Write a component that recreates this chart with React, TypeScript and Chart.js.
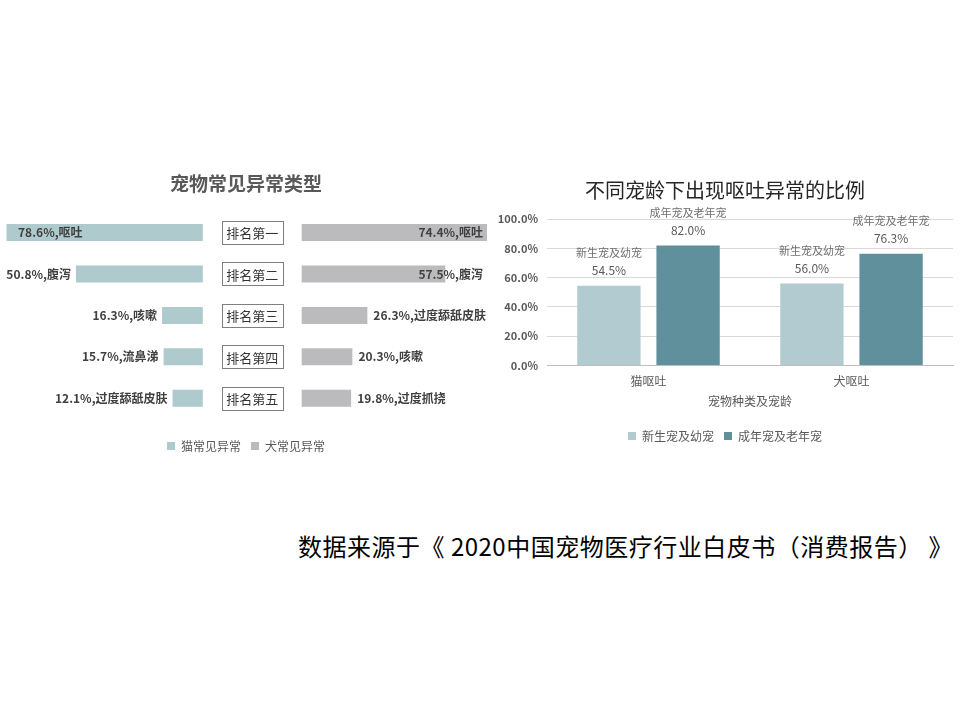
import React, { useEffect, useRef } from 'react';
import { Chart, registerables } from 'chart.js';
Chart.register(...registerables);

const FONT = '"Noto Sans CJK SC", "Noto Sans", sans-serif';
Chart.defaults.font.family = FONT;

// ---- Left chart data: 宠物常见异常类型 ----
const rankLabels = ['排名第一', '排名第二', '排名第三', '排名第四', '排名第五'];
const catValues = [78.6, 50.8, 16.3, 15.7, 12.1];
const catIssues = ['呕吐', '腹泻', '咳嗽', '流鼻涕', '过度舔舐皮肤'];
const dogValues = [74.4, 57.5, 26.3, 20.3, 19.8];
const dogIssues = ['呕吐', '腹泻', '过度舔舐皮肤', '咳嗽', '过度抓挠'];
const leftSeries = ['猫常见异常', '犬常见异常'];

// ---- Right chart data: 不同宠龄下出现呕吐异常的比例 ----
const vomitCategories = ['猫呕吐', '犬呕吐'];
const youngValues = [54.5, 56.0];
const adultValues = [82.0, 76.3];
const ageSeries = ['新生宠及幼宠', '成年宠及老年宠'];

const GAP = 19.8; // half width of the central rank column, in % units

const CAT_COLOR = '#aecacd';
const DOG_COLOR = '#bbbbbd';
const YOUNG_COLOR = '#b1cbd1';
const ADULT_COLOR = '#60909c';

const leftLabelPlugin = {
  id: 'leftLabels',
  afterDatasetsDraw(chart: any) {
    const { ctx, chartArea } = chart;
    const xs = chart.scales.x;
    ctx.save();
    ctx.textBaseline = 'middle';
    ctx.font = `bold 12px ${FONT}`;
    ctx.fillStyle = '#404040';
    chart.getDatasetMeta(0).data.forEach((bar: any, i: number) => {
      const text = `${catValues[i].toFixed(1)}%,${catIssues[i]}`;
      const w = ctx.measureText(text).width;
      const start = Math.min(bar.x, bar.base);
      if (start - 5 - w < chartArea.left) {
        ctx.textAlign = 'left';
        ctx.fillText(text, chartArea.left + 13, bar.y);
      } else {
        ctx.textAlign = 'right';
        ctx.fillText(text, start - 5, bar.y);
      }
    });
    chart.getDatasetMeta(1).data.forEach((bar: any, i: number) => {
      const text = `${dogValues[i].toFixed(1)}%,${dogIssues[i]}`;
      const w = ctx.measureText(text).width;
      const end = Math.max(bar.x, bar.base);
      if (end + 6 + w > chartArea.right) {
        ctx.textAlign = 'right';
        ctx.fillText(text, chartArea.right - 4, bar.y + (end + 6 < chartArea.right - 40 ? 3 : 0));
      } else {
        ctx.textAlign = 'left';
        ctx.fillText(text, end + 6, bar.y);
      }
    });
    const cx = xs.getPixelForValue(0);
    ctx.font = `13px ${FONT}`;
    ctx.textAlign = 'center';
    chart.getDatasetMeta(0).data.forEach((bar: any, i: number) => {
      const bw = 61, bh = 23;
      ctx.fillStyle = '#ffffff';
      ctx.fillRect(cx - bw / 2, bar.y - bh / 2, bw, bh);
      ctx.strokeStyle = '#7f7f7f';
      ctx.lineWidth = 1;
      ctx.strokeRect(Math.round(cx - bw / 2) + 0.5, Math.round(bar.y - bh / 2) + 0.5, bw, bh);
      ctx.fillStyle = '#333333';
      ctx.fillText(rankLabels[i], cx, bar.y + 1);
    });
    ctx.restore();
  },
};

const rightLabelPlugin = {
  id: 'rightLabels',
  afterDatasetsDraw(chart: any) {
    const { ctx } = chart;
    ctx.save();
    ctx.textAlign = 'center';
    ctx.textBaseline = 'middle';
    chart.data.datasets.forEach((ds: any, d: number) => {
      chart.getDatasetMeta(d).data.forEach((bar: any, i: number) => {
        ctx.font = `11px ${FONT}`;
        ctx.fillStyle = '#6f6f6f';
        ctx.fillText(ageSeries[d], bar.x, bar.y - 33);
        ctx.font = `12px ${FONT}`;
        ctx.fillStyle = '#595959';
        ctx.fillText(`${(ds.data[i] as number).toFixed(1)}%`, bar.x, bar.y - 15);
      });
    });
    ctx.restore();
  },
};

function LeftChart() {
  const ref = useRef<HTMLCanvasElement>(null);
  useEffect(() => {
    const chart = new Chart(ref.current as HTMLCanvasElement, {
      type: 'bar',
      data: {
        labels: rankLabels,
        datasets: [
          {
            label: leftSeries[0],
            data: catValues.map((v) => [-(GAP + v), -GAP]) as any,
            backgroundColor: CAT_COLOR,
            grouped: false,
            barPercentage: 0.41,
            categoryPercentage: 1,
          } as any,
          {
            label: leftSeries[1],
            data: dogValues.map((v) => [GAP, GAP + v]) as any,
            backgroundColor: DOG_COLOR,
            grouped: false,
            barPercentage: 0.41,
            categoryPercentage: 1,
          } as any,
        ],
      },
      options: {
        indexAxis: 'y',
        responsive: false,
        animation: false,
        layout: { padding: { left: 5, right: 43, top: 0, bottom: 8 } },
        scales: {
          x: {
            min: -99,
            max: 94,
            ticks: { display: false },
            grid: { display: false },
            border: { display: false },
            afterFit: (s: any) => {
              s.height = 11;
            },
          },
          y: { display: false },
        },
        plugins: {
          title: {
            display: true,
            text: '宠物常见异常类型',
            color: '#595959',
            font: { size: 19, weight: 'bold', family: FONT },
            padding: { top: 12, bottom: 17 },
          },
          legend: {
            position: 'bottom',
            labels: {
              boxWidth: 8,
              boxHeight: 8,
              padding: 10,
              color: '#595959',
              font: { size: 12, family: FONT },
            },
          },
          tooltip: { enabled: false },
        },
      } as any,
      plugins: [leftLabelPlugin],
    });
    return () => chart.destroy();
  }, []);
  return (
    <canvas
      ref={ref}
      width={530}
      height={310}
      style={{ position: 'absolute', left: 0, top: 160, width: 530, height: 310 }}
    />
  );
}

function RightChart() {
  const ref = useRef<HTMLCanvasElement>(null);
  useEffect(() => {
    const chart = new Chart(ref.current as HTMLCanvasElement, {
      type: 'bar',
      data: {
        labels: vomitCategories,
        datasets: [
          {
            label: ageSeries[0],
            data: youngValues,
            backgroundColor: YOUNG_COLOR,
            barPercentage: 0.8,
            categoryPercentage: 0.78,
          },
          {
            label: ageSeries[1],
            data: adultValues,
            backgroundColor: ADULT_COLOR,
            barPercentage: 0.8,
            categoryPercentage: 0.78,
          },
        ],
      },
      options: {
        responsive: false,
        animation: false,
        layout: { padding: { left: 7, right: 7, top: 0, bottom: 8 } },
        scales: {
          x: {
            grid: { display: false },
            border: { display: true, color: '#bfbfbf' },
            ticks: { color: '#595959', font: { size: 12, family: FONT, lineHeight: 1.2 }, padding: 1 },
            title: {
              display: true,
              text: '宠物种类及宠龄',
              color: '#595959',
              font: { size: 12, family: FONT, lineHeight: 1 },
              padding: { top: 5, bottom: 13 },
            },
          },
          y: {
            min: 0,
            max: 100,
            ticks: {
              stepSize: 20,
              padding: 9,
              color: '#595959',
              font: { size: 11, weight: 'bold', family: FONT },
              callback: (v: any) => `${Number(v).toFixed(1)}%`,
            },
            grid: { color: '#d9d9d9', drawTicks: false },
            border: { display: false },
            afterFit: (s: any) => {
              s.width = 50;
            },
          },
        },
        plugins: {
          title: {
            display: true,
            text: '不同宠龄下出现呕吐异常的比例',
            color: '#262626',
            font: { size: 20, weight: 'normal', family: FONT },
            padding: { top: 13, bottom: 17 },
          },
          legend: {
            position: 'bottom',
            labels: {
              boxWidth: 8,
              boxHeight: 8,
              padding: 10,
              color: '#595959',
              font: { size: 12, family: FONT },
            },
          },
          tooltip: { enabled: false },
        },
      } as any,
      plugins: [rightLabelPlugin],
    });
    return () => chart.destroy();
  }, []);
  return (
    <canvas
      ref={ref}
      width={470}
      height={295}
      style={{ position: 'absolute', left: 490, top: 165, width: 470, height: 295 }}
    />
  );
}

export default function App() {
  return (
    <div
      style={{
        position: 'absolute',
        left: 0,
        top: 0,
        width: 960,
        height: 720,
        background: '#ffffff',
        overflow: 'hidden',
      }}
    >
      <LeftChart />
      <RightChart />
      <div
        style={{
          position: 'absolute',
          left: 298,
          top: 530,
          fontFamily: FONT,
          fontSize: 24,
          lineHeight: '32px',
          letterSpacing: '0.5px',
          color: '#000000',
          whiteSpace: 'pre',
        }}
      >
        {'数据来源于《 2020中国宠物医疗行业白皮书（消费报告） 》'}
      </div>
    </div>
  );
}
